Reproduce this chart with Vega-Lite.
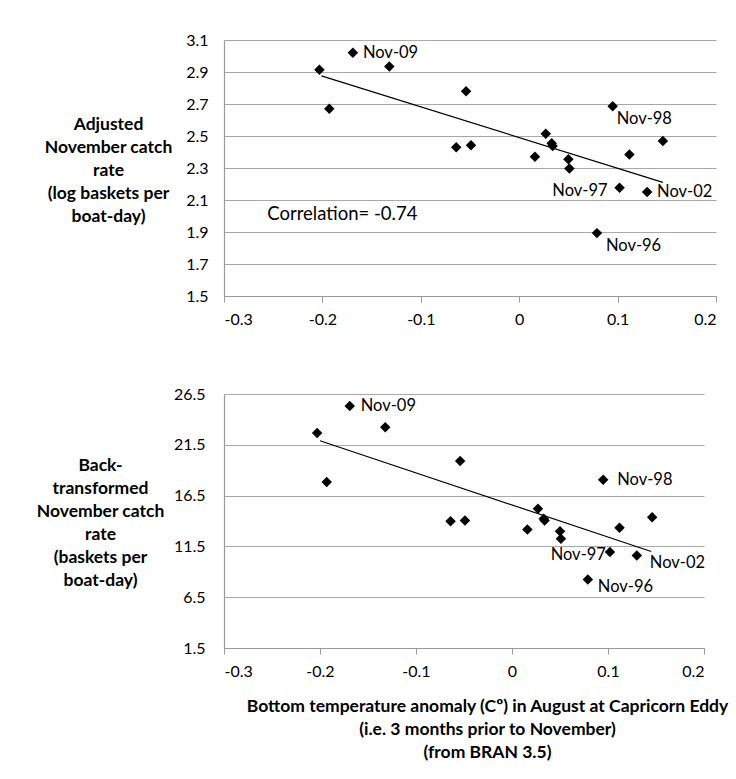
{
  "$schema": "https://vega.github.io/schema/vega-lite/v6.json",
  "background": "white",
  "padding": {"top": 32, "left": 36, "right": 0, "bottom": 0},
  "spacing": 59,
  "config": {
    "font": "Lato",
    "view": {"stroke": null},
    "axis": {
      "labelFont": "Lato", "labelFontSize": 16, "labelColor": "#000", "labelOverlap": false,
      "titleFont": "Lato", "titleFontWeight": "bold", "titleFontSize": 17.5, "titleColor": "#000",
      "domainColor": "#9a9a9a", "tickColor": "#9a9a9a", "gridColor": "#a8a8a8", "domainWidth": 1.2, "gridWidth": 1.2
    },
    "text": {"font": "Lato", "fontSize": 16.5, "color": "#000"}
  },
  "datasets": {
    "pts": [
      {"x": -0.203, "logy": 2.914, "bt": 22.67, "label": ""},
      {"x": -0.169, "logy": 3.021, "bt": 25.32, "label": "Nov-09"},
      {"x": -0.132, "logy": 2.934, "bt": 23.22, "label": ""},
      {"x": -0.193, "logy": 2.671, "bt": 17.85, "label": ""},
      {"x": -0.054, "logy": 2.779, "bt": 19.91, "label": ""},
      {"x": -0.064, "logy": 2.429, "bt": 13.98, "label": ""},
      {"x": -0.049, "logy": 2.442, "bt": 14.05, "label": ""},
      {"x": 0.016, "logy": 2.371, "bt": 13.16, "label": ""},
      {"x": 0.027, "logy": 2.514, "bt": 15.2, "label": ""},
      {"x": 0.033, "logy": 2.454, "bt": 14.21, "label": ""},
      {"x": 0.034, "logy": 2.437, "bt": 14.05, "label": ""},
      {"x": 0.05, "logy": 2.355, "bt": 13.0, "label": ""},
      {"x": 0.051, "logy": 2.297, "bt": 12.25, "label": ""},
      {"x": 0.095, "logy": 2.686, "bt": 18.05, "label": "Nov-98"},
      {"x": 0.112, "logy": 2.384, "bt": 13.33, "label": ""},
      {"x": 0.146, "logy": 2.469, "bt": 14.38, "label": ""},
      {"x": 0.102, "logy": 2.177, "bt": 10.94, "label": "Nov-97"},
      {"x": 0.13, "logy": 2.15, "bt": 10.61, "label": "Nov-02"},
      {"x": 0.079, "logy": 1.893, "bt": 8.25, "label": "Nov-96"}
    ],
    "trendLog": [{"x": -0.201, "y": 2.876}, {"x": 0.146, "y": 2.21}],
    "trendBt": [{"x": -0.2, "y": 21.9}, {"x": 0.145, "y": 11.0}],
    "corr": [{"x": -0.256, "y": 2.013, "t": "Correlation= -0.74"}]
  },
  "vconcat": [
    {
      "width": 492,
      "height": 256,
      "encoding": {
        "x": {"field": "x", "type": "quantitative",
          "scale": {"domain": [-0.3, 0.2], "nice": false, "zero": false},
          "axis": {"title": null, "values": [-0.3, -0.2, -0.1, 0, 0.1, 0.2], "tickCount": 10, "grid": false, "tickSize": 6, "labelPadding": 9,
            "labelExpr": "replace(format(datum.value, '.1~f'), '\u2212', '-')"}}
      },
      "layer": [
        {
          "data": {"name": "pts"},
          "mark": {"type": "point", "shape": "diamond", "filled": true, "color": "#000", "size": 110, "opacity": 1},
          "encoding": {
            "y": {"field": "logy", "type": "quantitative",
              "scale": {"domain": [1.5, 3.1], "nice": false, "zero": false},
              "axis": {"values": [1.5, 1.7, 1.9, 2.1, 2.3, 2.5, 2.7, 2.9, 3.1], "tickCount": 12, "format": ".1f", "ticks": false, "labelPadding": 16, "grid": true,
                "title": ["Adjusted", "November catch", "rate", "(log baskets per", "boat-day)"],
                "titleAngle": 0, "titleAlign": "center", "titleBaseline": "middle", "titleX": -116, "titleY": 84, "titleLineHeight": 23}}
          }
        },
        {
          "data": {"name": "trendLog"},
          "mark": {"type": "line", "color": "#000", "strokeWidth": 1.2},
          "encoding": {"y": {"field": "y", "type": "quantitative"}}
        },
        {
          "data": {"name": "corr"},
          "mark": {"type": "text", "align": "left", "baseline": "middle", "fontSize": 18.5},
          "encoding": {"y": {"field": "y", "type": "quantitative"}, "text": {"field": "t"}}
        },
        {
          "data": {"name": "pts"},
          "transform": [{"filter": "datum.label == 'Nov-09' || datum.label == 'Nov-02'"}],
          "mark": {"type": "text", "align": "left", "baseline": "middle", "dx": 10},
          "encoding": {"y": {"field": "logy", "type": "quantitative"}, "text": {"field": "label"}}
        },
        {
          "data": {"name": "pts"},
          "transform": [{"filter": "datum.label == 'Nov-98'"}],
          "mark": {"type": "text", "align": "left", "baseline": "middle", "dx": 4, "dy": 13},
          "encoding": {"y": {"field": "logy", "type": "quantitative"}, "text": {"field": "label"}}
        },
        {
          "data": {"name": "pts"},
          "transform": [{"filter": "datum.label == 'Nov-96'"}],
          "mark": {"type": "text", "align": "left", "baseline": "middle", "dx": 9, "dy": 13},
          "encoding": {"y": {"field": "logy", "type": "quantitative"}, "text": {"field": "label"}}
        },
        {
          "data": {"name": "pts"},
          "transform": [{"filter": "datum.label == 'Nov-97'"}],
          "mark": {"type": "text", "align": "right", "baseline": "middle", "dx": -12, "dy": 3},
          "encoding": {"y": {"field": "logy", "type": "quantitative"}, "text": {"field": "label"}}
        }
      ]
    },
    {
      "width": 480,
      "height": 254,
      "encoding": {
        "x": {"field": "x", "type": "quantitative",
          "scale": {"domain": [-0.3, 0.2], "nice": false, "zero": false},
          "axis": {"values": [-0.3, -0.2, -0.1, 0, 0.1, 0.2], "tickCount": 10, "grid": false, "tickSize": 6, "labelPadding": 9,
            "labelExpr": "replace(format(datum.value, '.1~f'), '\u2212', '-')",
            "title": ["Bottom temperature anomaly (Cº) in August at Capricorn Eddy", "(i.e. 3 months prior to November)", "(from BRAN 3.5)"],
            "titleX": 263, "titleAlign": "center", "titlePadding": 18, "titleLineHeight": 23}}
      },
      "layer": [
        {
          "data": {"name": "pts"},
          "mark": {"type": "point", "shape": "diamond", "filled": true, "color": "#000", "size": 110, "opacity": 1},
          "encoding": {
            "y": {"field": "bt", "type": "quantitative",
              "scale": {"domain": [1.5, 26.5], "nice": false, "zero": false},
              "axis": {"values": [1.5, 6.5, 11.5, 16.5, 21.5, 26.5], "tickCount": 10, "format": ".1f", "ticks": false, "labelPadding": 19, "grid": true,
                "title": ["Back-", "transformed", "November catch", "rate", "(baskets per", "boat-day)"],
                "titleAngle": 0, "titleAlign": "center", "titleBaseline": "middle", "titleX": -124, "titleY": 71, "titleLineHeight": 23}}
          }
        },
        {
          "data": {"name": "trendBt"},
          "mark": {"type": "line", "color": "#000", "strokeWidth": 1.2},
          "encoding": {"y": {"field": "y", "type": "quantitative"}}
        },
        {
          "data": {"name": "pts"},
          "transform": [{"filter": "datum.label == 'Nov-09'"}],
          "mark": {"type": "text", "align": "left", "baseline": "middle", "dx": 11},
          "encoding": {"y": {"field": "bt", "type": "quantitative"}, "text": {"field": "label"}}
        },
        {
          "data": {"name": "pts"},
          "transform": [{"filter": "datum.label == 'Nov-98'"}],
          "mark": {"type": "text", "align": "left", "baseline": "middle", "dx": 14},
          "encoding": {"y": {"field": "bt", "type": "quantitative"}, "text": {"field": "label"}}
        },
        {
          "data": {"name": "pts"},
          "transform": [{"filter": "datum.label == 'Nov-02'"}],
          "mark": {"type": "text", "align": "left", "baseline": "middle", "dx": 13, "dy": 8},
          "encoding": {"y": {"field": "bt", "type": "quantitative"}, "text": {"field": "label"}}
        },
        {
          "data": {"name": "pts"},
          "transform": [{"filter": "datum.label == 'Nov-96'"}],
          "mark": {"type": "text", "align": "left", "baseline": "middle", "dx": 10, "dy": 8},
          "encoding": {"y": {"field": "bt", "type": "quantitative"}, "text": {"field": "label"}}
        },
        {
          "data": {"name": "pts"},
          "transform": [{"filter": "datum.label == 'Nov-97'"}],
          "mark": {"type": "text", "align": "right", "baseline": "middle", "dx": -4, "dy": 3},
          "encoding": {"y": {"field": "bt", "type": "quantitative"}, "text": {"field": "label"}}
        }
      ]
    }
  ]
}
